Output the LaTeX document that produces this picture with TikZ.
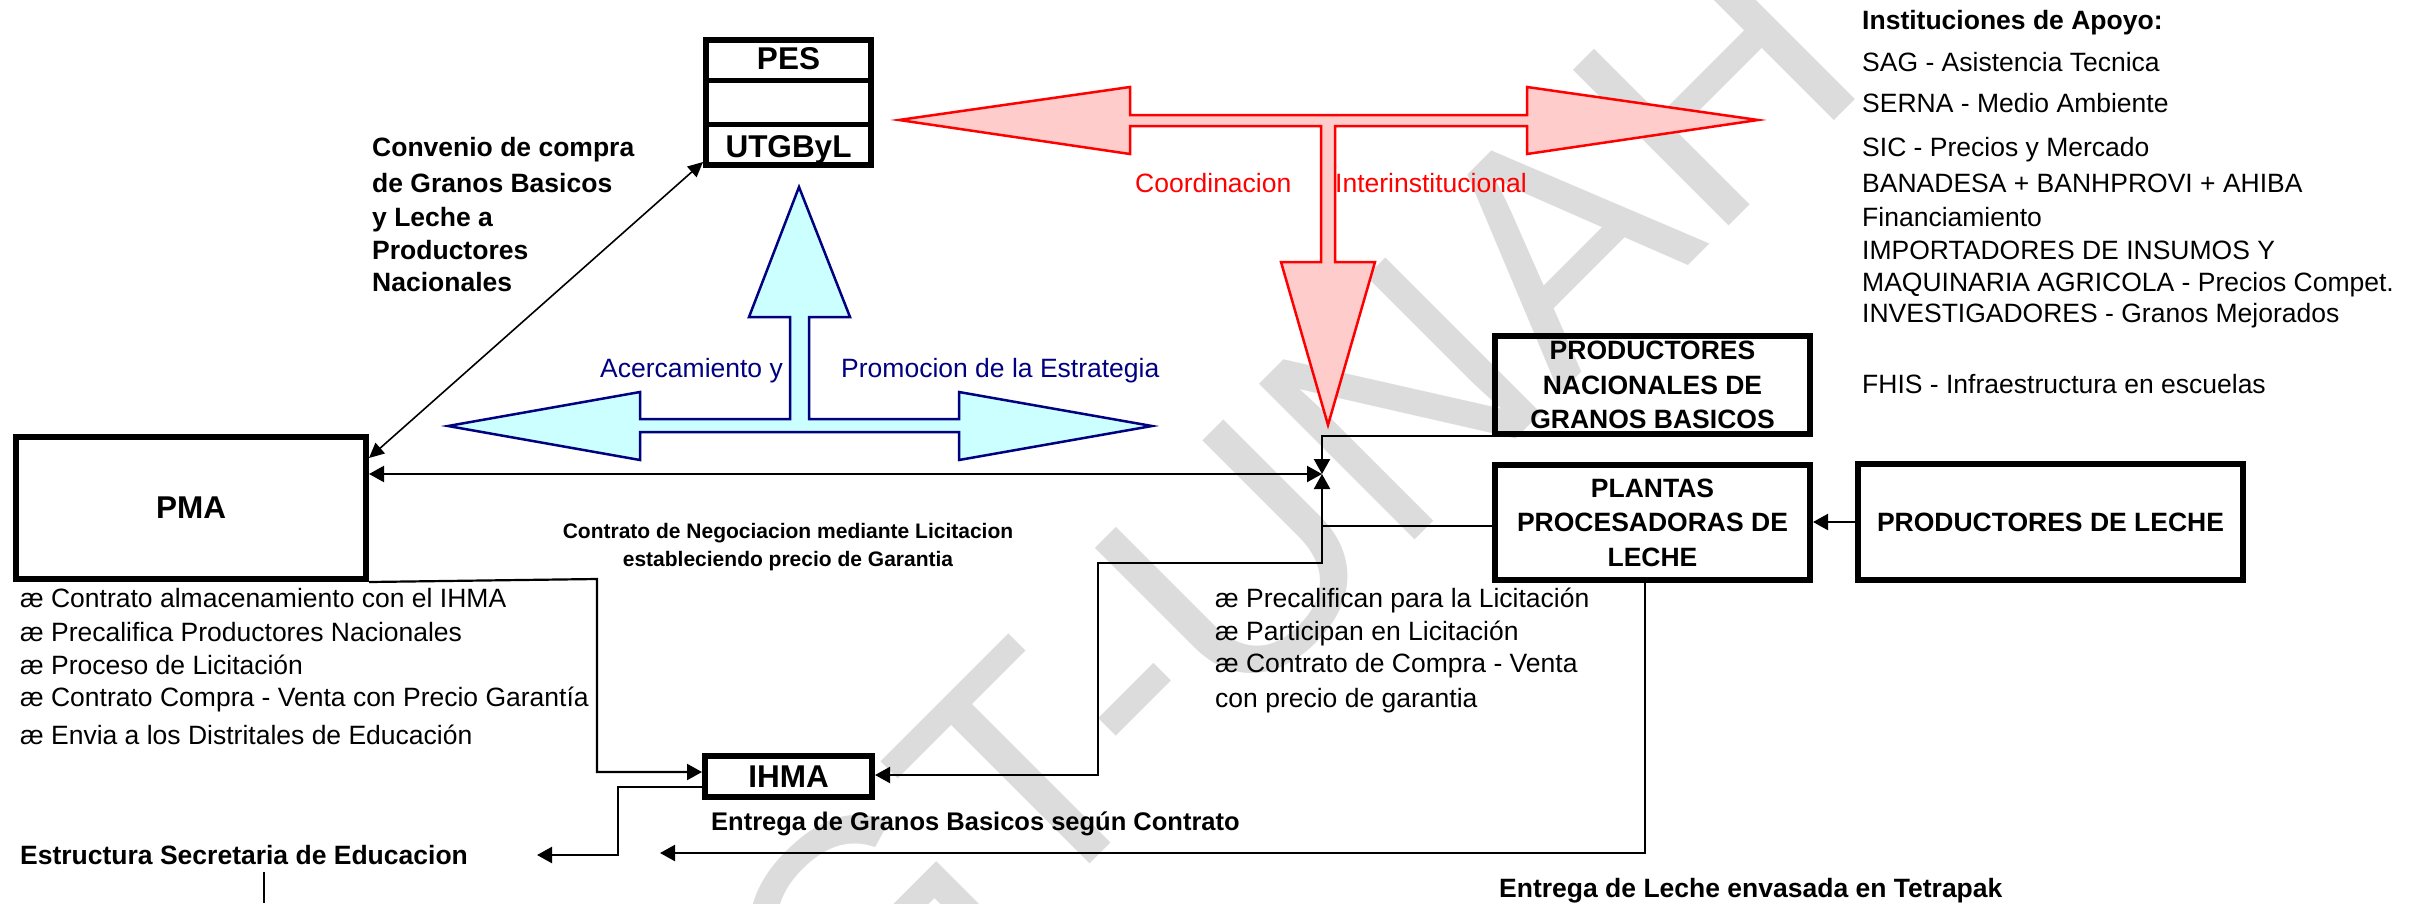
\documentclass[tikz,border=0pt]{standalone}
\usepackage{fontspec}
\setmainfont{Liberation Sans}
\usetikzlibrary{arrows.meta}
\definecolor{navyB}{HTML}{000080}
\definecolor{cyanF}{HTML}{CCFFFF}
\definecolor{pinkF}{HTML}{FFCCCC}
\definecolor{wmgray}{HTML}{DCDCDC}
\newcommand\txtN{\fontsize{26.5}{34}\selectfont}
\newcommand\txtB{\fontsize{26.5}{34.5}\selectfont\bfseries}
\newcommand\txtL{\fontsize{31.5}{36}\selectfont\bfseries}
\newcommand\txtS{\fontsize{21}{28}\selectfont\bfseries}
\newcommand\txtG{\fontsize{25.5}{30}\selectfont\bfseries}
\tikzset{
  thickbox/.style={draw, line width=6pt, inner sep=0pt, align=center},
  lbl/.style={inner sep=0pt, anchor=base west, font=\txtN},
  lblb/.style={inner sep=0pt, anchor=base west, font=\txtB},
  arr/.style={line width=2.2pt, -{Triangle[length=15pt,width=16pt]}},
  darr/.style={line width=2.2pt, {Triangle[length=15pt,width=16pt]}-{Triangle[length=15pt,width=16pt]}},
  conv/.style={line width=1.6pt, {Triangle[length=15pt,width=14pt]}-{Triangle[length=15pt,width=14pt]}},
  redarrow/.style={draw=red, fill=pinkF, line width=2.5pt, line join=miter},
  bluearrow/.style={draw=navyB, fill=cyanF, line width=2.5pt, line join=miter},
}
\begin{document}
\begin{tikzpicture}[x=1pt,y=-1pt]
\useasboundingbox (0,0) rectangle (2422,903);
% watermark
\begin{scope}
\clip (0,0) rectangle (2422,903);
\node[rotate=45, text=wmgray, font=\fontsize{320}{320}\selectfont, inner sep=0pt] (wm) at (1130,669) {DEGT-UNAH};
\end{scope}
% red T arrow
\draw[redarrow] (899,120) -- (1130,87) -- (1130,115) -- (1527,115) -- (1527,87) -- (1758,120)
  -- (1527,154) -- (1527,126) -- (1335,126) -- (1335,262) -- (1375,262) -- (1328,425)
  -- (1281,262) -- (1321,262) -- (1321,126) -- (1130,126) -- (1130,154) -- cycle;
% blue cross arrow
\draw[bluearrow] (799,187) -- (850,317) -- (809,317) -- (809,419) -- (959,419) -- (959,392)
  -- (1152,426) -- (959,460) -- (959,432) -- (640,432) -- (640,460) -- (448,426)
  -- (640,392) -- (640,419) -- (790,419) -- (790,317) -- (749,317) -- cycle;
% boxes
\node[thickbox, minimum width=165pt, minimum height=125pt] (pes) at (788.5,102.5) {};
\draw[line width=5pt] (pes.west |- 0,80) -- (pes.east |- 0,80);
\draw[line width=5pt] (pes.west |- 0,124) -- (pes.east |- 0,124);
\node[inner sep=0pt, anchor=base, font=\txtL] (pesA) at (788.5,69) {PES};
\node[inner sep=0pt, anchor=base, font=\txtL] (pesC) at (788.5,157) {UTGByL};
\node[thickbox, minimum width=350pt, minimum height=142pt, font=\txtL] (pma) at (191,508) {PMA};
\node[thickbox, minimum width=167pt, minimum height=41pt, font=\txtL] (ihma) at (788.5,776.5) {IHMA};
\node[thickbox, minimum width=315pt, minimum height=98pt, font=\txtB] (nac) at (1652.5,385) {PRODUCTORES\\NACIONALES DE\\GRANOS BASICOS};
\node[thickbox, minimum width=315pt, minimum height=115pt, font=\txtB] (plantas) at (1652.5,522.5) {PLANTAS\\PROCESADORAS DE\\LECHE};
\node[thickbox, minimum width=385pt, minimum height=116pt, font=\txtB] (leche) at (2050.5,522) {PRODUCTORES DE LECHE};
% coordinates
\coordinate (J) at (1322,474);
\coordinate (Jlow) at (1322,563);
\coordinate (K) at (1098,563);
\coordinate (L) at (597,579);
\coordinate (M) at (618,855);
\coordinate (eduArr) at (537,855);
\coordinate (Pd) at (1645,853);
\coordinate (lecArr) at (660,853);
\coordinate (eduTop) at (264,872);
\coordinate (eduBot) at (264,903);
% connectors
\draw[conv] (pma.east |- 0,458) -- (pes.west |- 0,162);
\draw[darr] (pma.east |- J) -- (J);
\draw[arr] (nac.south west |- 0,436) -| (J);
\draw[arr] (plantas.west |- 0,526) -| (J);
\draw[arr] (plantas.west |- 0,526) -| (Jlow) -- (K) |- (ihma.east |- 0,775);
\draw[arr] (pma.south east) -- (L) |- (ihma.west |- 0,772);
\draw[arr] (ihma.west |- 0,787) -| (M) -- (eduArr);
\draw[arr] (plantas.south -| Pd) -- (Pd) -- (lecArr);
\draw[arr] (leche.west) -- (plantas.east |- leche.west);
\draw[line width=2pt] (eduTop) -- (eduBot);
% texts: Instituciones
\node[lblb] (inst) at (1862,29.5) {Instituciones de Apoyo:};
\node[lbl] (sag) at (1862,71.5) {SAG - Asistencia Tecnica};
\node[lbl] (serna) at (1862,112.5) {SERNA - Medio Ambiente};
\node[lbl] (sic) at (1862,156.5) {SIC - Precios y Mercado};
\node[lbl] (banad) at (1862,192.5) {BANADESA + BANHPROVI + AHIBA};
\node[lbl] (finan) at (1862,226.5) {Financiamiento};
\node[lbl] (impor) at (1862,259.5) {IMPORTADORES DE INSUMOS Y};
\node[lbl] (maqui) at (1862,291.5) {MAQUINARIA AGRICOLA - Precios Compet.};
\node[lbl] (inves) at (1862,322.5) {INVESTIGADORES - Granos Mejorados};
\node[lbl] (fhis) at (1862,393) {FHIS - Infraestructura en escuelas};
% Convenio
\node[lblb] (conv1) at (372,156.5) {Convenio de compra};
\node[lblb] (conv2) at (372,192.5) {de Granos Basicos};
\node[lblb] (conv3) at (372,226.5) {y Leche a};
\node[lblb] (conv4) at (372,259.5) {Productores};
\node[lblb] (conv5) at (372,291.5) {Nacionales};
% arrow labels
\node[lbl, text=red] (coord) at (1135,192.5) {Coordinacion};
\node[lbl, text=red] (inter) at (1335,192.5) {Interinstitucional};
\node[lbl, text=navyB] (acer) at (600,377.5) {Acercamiento y};
\node[lbl, text=navyB] (promo) at (841,377.5) {Promocion de la Estrategia};
% contrato
\node[inner sep=0pt, anchor=base, font=\txtS] (contr1) at (788,538.5) {Contrato de Negociacion mediante Licitacion};
\node[inner sep=0pt, anchor=base, font=\txtS] (contr2) at (788,566.5) {estableciendo precio de Garantia};
% PMA list
\node[lbl] (p1) at (20,607.5) {æ Contrato almacenamiento con el IHMA};
\node[lbl] (p2) at (20,641.5) {æ Precalifica Productores Nacionales};
\node[lbl] (p3) at (20,674.5) {æ Proceso de Licitación};
\node[lbl] (p4) at (20,706.5) {æ Contrato Compra - Venta con Precio Garantía};
\node[lbl] (p5) at (20,744.5) {æ Envia a los Distritales de Educación};
% right list
\node[lbl] (r1) at (1215,607.5) {æ Precalifican para la Licitación};
\node[lbl] (r2) at (1215,640.5) {æ Participan en Licitación};
\node[lbl] (r3) at (1215,672.5) {æ Contrato de Compra - Venta};
\node[lbl] (r4) at (1215,707.5) {con precio de garantia};
% bottom labels
\node[inner sep=0pt, anchor=base west, font=\txtG] (entG) at (711,830.5) {Entrega de Granos Basicos según Contrato};
\node[lblb] (estr) at (20,864.5) {Estructura Secretaria de Educacion};
\node[lblb] (entL) at (1499,897.5) {Entrega de Leche envasada en Tetrapak};
\end{tikzpicture}
\end{document}
